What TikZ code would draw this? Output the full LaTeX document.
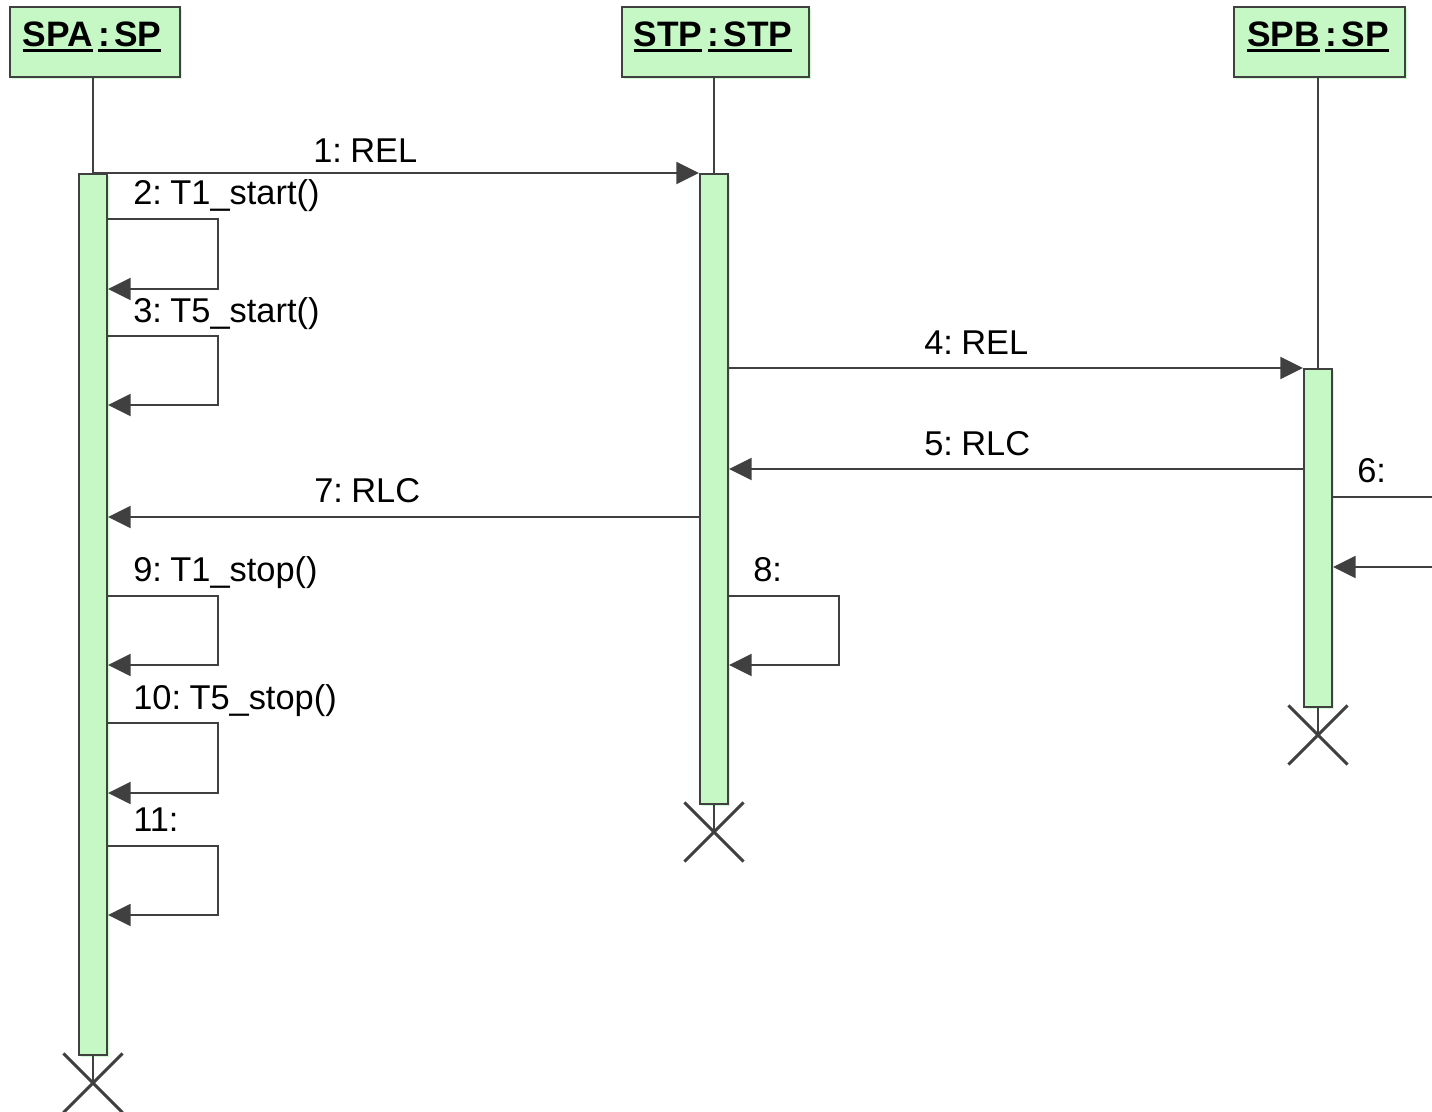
\documentclass[tikz,border=0pt]{standalone}
\usepackage{fontspec}
\setmainfont[WordSpace=0.55]{Liberation Sans}
\usetikzlibrary{arrows.meta,shadows,shapes.misc}
\definecolor{fillg}{HTML}{C6F8C6}
\definecolor{lineg}{HTML}{404040}
\newcommand\myul[1]{\setbox0\hbox{#1}\rlap{\rule[-4.6pt]{\wd0}{2.3pt}}\box0\relax}
\tikzset{
  gshadow/.style={drop shadow={shadow xshift=1.8pt,shadow yshift=-1.8pt,fill=fillg,opacity=0.8}},
  hdr/.style={draw=lineg, line width=1.9pt, fill=fillg, minimum height=52.5pt, inner sep=0pt, gshadow},
  htxt/.style={anchor=base, inner sep=0pt, font=\bfseries\fontsize{26.5}{30}\selectfont},
  bar/.style={draw=lineg, line width=1.5pt, fill=fillg, minimum width=21pt, inner sep=0pt, gshadow},
  life/.style={draw=lineg, line width=1.5pt},
  msg/.style={draw=lineg, line width=1.5pt, -{Triangle[length=17pt,width=16.5pt]}},
  plain/.style={draw=lineg, line width=1.5pt},
  lbl/.style={anchor=base west, inner sep=0pt, font=\fontsize{25.8}{28}\selectfont},
  xmark/.style={cross out, draw=lineg, line width=2.3pt, minimum size=42pt, inner sep=0pt},
}
\begin{document}
\begin{tikzpicture}[x=0.75pt,y=-0.75pt]
\useasboundingbox (0,0) rectangle (1432,1111);
% headers
\node[hdr, minimum width=127.5pt] (hA) at (95,42) {};
\node[hdr, minimum width=140.25pt] (hS) at (715.5,42) {};
\node[hdr, minimum width=128.25pt] (hB) at (1319.5,42) {};
\node[htxt] (tA) at (92,46) {\myul{SPA} \myul{:\hspace{0.12em}SP}};
\node[htxt] (tS) at (713,46) {\myul{STP} \myul{:\hspace{0.12em}STP}};
\node[htxt] (tB) at (1318,46) {\myul{SPB} \myul{:\hspace{0.12em}SP}};
% activation bars
\node[bar, minimum height=660.75pt] (barA) at (93,614.5) {};
\node[bar, minimum height=472.5pt] (barS) at (714,489) {};
\node[bar, minimum height=253.5pt] (barB) at (1318,538) {};
% destruction marks
\node[xmark] (xA) at (93,1083) {};
\node[xmark] (xS) at (714,832) {};
\node[xmark] (xB) at (1318,735) {};
% lifelines
\draw[life] (barA.north |- hA.south) -- (barA.north);
\draw[life] (barS.north |- hS.south) -- (barS.north);
\draw[life] (barB.north |- hB.south) -- (barB.north);
\draw[life] (barA.south) -- (xA.center);
\draw[life] (barS.south) -- (xS.center);
\draw[life] (barB.south) -- (xB.center);
% free ends at right edge
\coordinate (e6a) at (1432,497);
\coordinate (e6b) at (1432,567);
% messages
\draw[msg] (barA.north) -- (barS.north west);
\node[lbl] (l1) at (313,162) {1: REL};
\draw[msg] (barA.east |- 0,219) -- (218,219) -- (218,289) -- (barA.east |- 0,289);
\node[lbl] (l2) at (133,204) {2: T1\_start()};
\draw[msg] (barA.east |- 0,336) -- (218,336) -- (218,405) -- (barA.east |- 0,405);
\node[lbl] (l3) at (133,322) {3: T5\_start()};
\draw[msg] (barS.east |- barB.north) -- (barB.north west);
\node[lbl] (l4) at (924,354) {4: REL};
\draw[msg] (barB.west |- 0,469) -- (barS.east |- 0,469);
\node[lbl] (l5) at (924,455) {5: RLC};
\draw[plain] (barB.east |- 0,497) -- (e6a);
\node[lbl] (l6) at (1357,482) {6:};
\draw[msg] (e6b) -- (barB.east |- 0,567);
\draw[msg] (barS.west |- 0,517) -- (barA.east |- 0,517);
\node[lbl] (l7) at (314,502) {7: RLC};
\draw[msg] (barS.east |- 0,596) -- (839,596) -- (839,665) -- (barS.east |- 0,665);
\node[lbl] (l8) at (753,581) {8:};
\draw[msg] (barA.east |- 0,596) -- (218,596) -- (218,665) -- (barA.east |- 0,665);
\node[lbl] (l9) at (133,581) {9: T1\_stop()};
\draw[msg] (barA.east |- 0,723) -- (218,723) -- (218,793) -- (barA.east |- 0,793);
\node[lbl] (l10) at (133,709) {10: T5\_stop()};
\draw[msg] (barA.east |- 0,846) -- (218,846) -- (218,915) -- (barA.east |- 0,915);
\node[lbl] (l11) at (133,831) {11:};
\end{tikzpicture}
\end{document}
